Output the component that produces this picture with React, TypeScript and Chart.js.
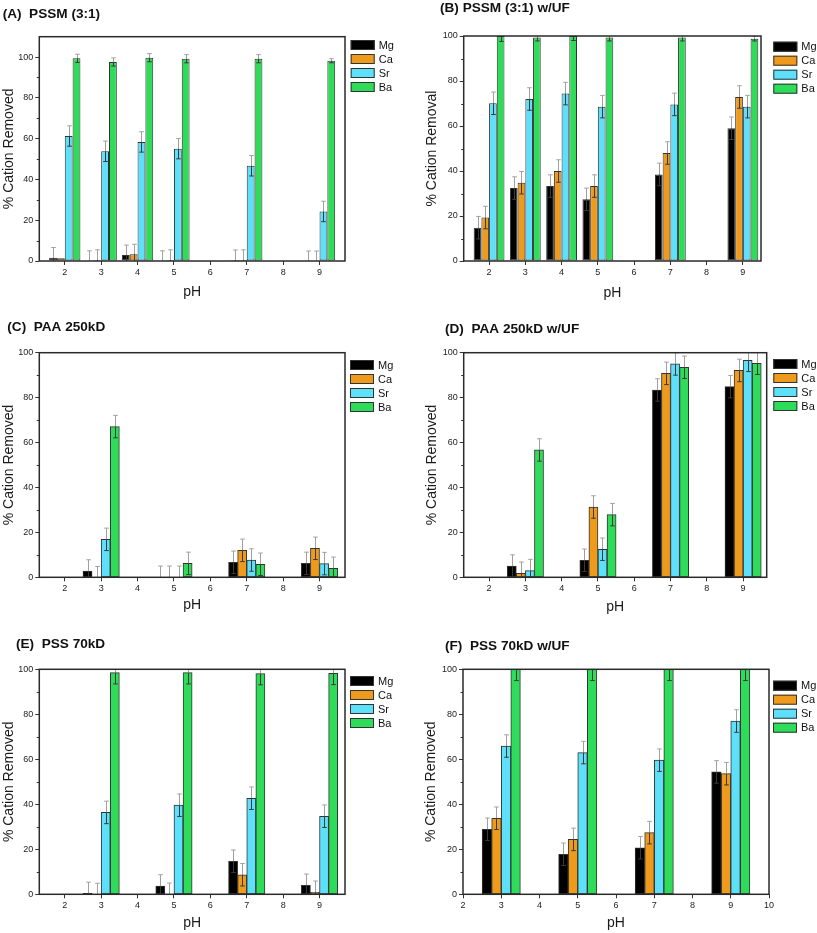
import React, { useEffect, useRef } from 'react';
import { Chart, registerables } from 'chart.js';

Chart.register(...registerables);
Chart.defaults.font.family = '"Liberation Sans", Arial, Helvetica, sans-serif';

// ---------- shared ----------
const SERIES = ['Mg', 'Ca', 'Sr', 'Ba'];
const COLORS = ['#000000', '#EE9A1C', '#5EDFFA', '#2EDC5A'];

// ---------- (A) PSSM (3:1) ----------
const PH_A = [2, 3, 4, 5, 7, 9];
const A_MG = [1.6, 0, 2.9, 0, 0.5, 0];
const A_CA = [1.3, 0.5, 3.3, 0.5, 0.5, 0];
const A_SR = [61.3, 53.8, 58.4, 55.1, 46.7, 24.3];
const A_BA = [99.4, 97.6, 99.7, 99.2, 99.2, 98.2];
const A_MG_ERR = [5, 5, 4.9, 5, 4.9, 4.9];
const A_CA_ERR = [0, 5, 4.9, 5, 5, 4.9];
const A_SR_ERR = [5, 5, 5, 5, 5, 5];
const A_BA_ERR = [2, 2, 2, 2, 2, 1];

// ---------- (B) PSSM (3:1) w/UF ----------
const PH_B = [2, 3, 4, 5, 7, 9];
const B_MG = [14.8, 32.4, 33.3, 27.4, 38.5, 59.0];
const B_CA = [19.3, 34.8, 40.0, 33.3, 48.0, 72.9];
const B_SR = [70.1, 72.0, 74.4, 68.6, 69.6, 68.6];
const B_BA = [100, 99.3, 100, 99.3, 99.3, 98.8];
const B_MG_ERR = [5, 5, 5, 5, 5, 5];
const B_CA_ERR = [5, 5, 5, 5, 5, 5];
const B_SR_ERR = [5, 5, 5, 5, 5, 5];
const B_BA_ERR = [2.4, 1.5, 2, 1.5, 1.5, 1];

// ---------- (C) PAA 250kD ----------
const PH_C = [3, 5, 7, 9];
const C_MG = [2.8, 0, 6.7, 6.2];
const C_CA = [0, 0, 12.0, 12.9];
const C_SR = [16.9, 0, 7.7, 6.1];
const C_BA = [67.1, 6.2, 5.8, 4.0];
const C_MG_ERR = [5, 5, 5, 5];
const C_CA_ERR = [4.8, 5, 5, 5];
const C_SR_ERR = [5, 5, 5, 5];
const C_BA_ERR = [5, 5, 5, 5];

// ---------- (D) PAA 250kD w/UF ----------
const PH_D = [3, 5, 7, 9];
const D_MG = [5.0, 7.6, 83.4, 84.9];
const D_CA = [1.8, 31.3, 90.8, 92.1];
const D_SR = [3.0, 12.5, 95.0, 96.6];
const D_BA = [56.7, 27.9, 93.5, 95.3];
const D_MG_ERR = [5, 5, 5, 5];
const D_CA_ERR = [5, 5, 5, 5];
const D_SR_ERR = [5, 5, 5, 5];
const D_BA_ERR = [5, 5, 5, 5];

// ---------- (E) PSS 70kD ----------
const PH_E = [3, 5, 7, 9];
const E_MG = [0.4, 3.7, 14.7, 4.0];
const E_CA = [0, 0, 8.7, 0.9];
const E_SR = [36.4, 39.6, 42.7, 34.7];
const E_BA = [98.5, 98.5, 98.1, 98.2];
const E_MG_ERR = [5, 5, 5, 5];
const E_CA_ERR = [4.9, 5, 5, 5];
const E_SR_ERR = [5, 5, 5, 5];
const E_BA_ERR = [5, 5, 5, 5];

// ---------- (F) PSS 70kD w/UF ----------
const PH_F = [3, 5, 7, 9];
const F_MG = [28.9, 17.8, 20.7, 54.4];
const F_CA = [33.8, 24.4, 27.4, 53.6];
const F_SR = [65.9, 63.0, 59.6, 77.0];
const F_BA = [100, 100, 100, 100];
const F_MG_ERR = [5, 5, 5, 5];
const F_CA_ERR = [5, 5, 5, 5];
const F_SR_ERR = [5, 5, 5, 5];
const F_BA_ERR = [5, 5, 5, 5];

type Panel = {
  title: string;
  yTitle: string;
  ph: number[];
  values: number[][];
  errors: number[][];
  xMin: number;
  xMax: number;
  yMax: number;
  group: number;
  ox: number; oy: number; w: number; h: number;
  area: { l: number; r: number; t: number; b: number };
  yTitleX: number;
  xTitleY: number;
  titlePos: [number, number];
  legendPos: [number, number];
};

const PANELS: Panel[] = [
  {
    title: '(A)  PSSM (3:1)', yTitle: '% Cation Removed', ph: PH_A,
    values: [A_MG, A_CA, A_SR, A_BA], errors: [A_MG_ERR, A_CA_ERR, A_SR_ERR, A_BA_ERR],
    xMin: 1.3, xMax: 9.7, yMax: 110, group: 0.86,
    ox: 0, oy: 0, w: 405, h: 305,
    area: { l: 39.3, r: 345, t: 36.7, b: 261 }, yTitleX: 8.7, xTitleY: 291.7,
    titlePos: [2.7, 14], legendPos: [350.7, 40],
  },
  {
    title: '(B) PSSM (3:1) w/UF', yTitle: '% Cation Removal', ph: PH_B,
    values: [B_MG, B_CA, B_SR, B_BA], errors: [B_MG_ERR, B_CA_ERR, B_SR_ERR, B_BA_ERR],
    xMin: 1.3, xMax: 9.5, yMax: 100, group: 0.85,
    ox: 405, oy: 0, w: 412, h: 305,
    area: { l: 58.7, r: 356, t: 36, b: 261 }, yTitleX: 27.5, xTitleY: 293,
    titlePos: [35, 8], legendPos: [368.3, 41.7],
  },
  {
    title: '(C)  PAA 250kD', yTitle: '% Cation Removed', ph: PH_C,
    values: [C_MG, C_CA, C_SR, C_BA], errors: [C_MG_ERR, C_CA_ERR, C_SR_ERR, C_BA_ERR],
    xMin: 1.3, xMax: 9.7, yMax: 100, group: 1.0,
    ox: 0, oy: 305, w: 405, h: 315,
    area: { l: 39.3, r: 345, t: 47.7, b: 272.3 }, yTitleX: 8.7, xTitleY: 300,
    titlePos: [7.3, 22], legendPos: [350, 55],
  },
  {
    title: '(D)  PAA 250kD w/UF', yTitle: '% Cation Removed', ph: PH_D,
    values: [D_MG, D_CA, D_SR, D_BA], errors: [D_MG_ERR, D_CA_ERR, D_SR_ERR, D_BA_ERR],
    xMin: 1.3, xMax: 9.65, yMax: 100, group: 1.0,
    ox: 405, oy: 305, w: 412, h: 315,
    area: { l: 58.7, r: 361.7, t: 47.7, b: 272.3 }, yTitleX: 27.5, xTitleY: 301.7,
    titlePos: [40, 24], legendPos: [368.3, 54],
  },
  {
    title: '(E)  PSS 70kD', yTitle: '% Cation Removed', ph: PH_E,
    values: [E_MG, E_CA, E_SR, E_BA], errors: [E_MG_ERR, E_CA_ERR, E_SR_ERR, E_BA_ERR],
    xMin: 1.3, xMax: 9.7, yMax: 100, group: 1.0,
    ox: 0, oy: 620, w: 405, h: 313,
    area: { l: 39.3, r: 345, t: 49.3, b: 274.3 }, yTitleX: 8.7, xTitleY: 303,
    titlePos: [16, 24], legendPos: [350, 56],
  },
  {
    title: '(F)  PSS 70kD w/UF', yTitle: '% Cation Removed', ph: PH_F,
    values: [F_MG, F_CA, F_SR, F_BA], errors: [F_MG_ERR, F_CA_ERR, F_SR_ERR, F_BA_ERR],
    xMin: 2, xMax: 10, yMax: 100, group: 1.0,
    ox: 405, oy: 620, w: 412, h: 313,
    area: { l: 58, r: 364, t: 49.3, b: 274.3 }, yTitleX: 26, xTitleY: 303,
    titlePos: [40, 26], legendPos: [368, 60.7],
  },
];

const FONT = '"Liberation Sans", Arial, Helvetica, sans-serif';
const TITLE_LH = 14 * 1.2;

function makePlugin(cfg: Panel) {
  return {
    id: 'panelExtras',
    afterDatasetsDraw(chart: any) {
      const ctx = chart.ctx;
      const ys = chart.scales.y;
      const a = chart.chartArea;
      ctx.save();
      ctx.beginPath();
      ctx.rect(a.left, a.top, a.right - a.left, a.bottom - a.top);
      ctx.clip();
      ctx.lineWidth = 1;
      const capHalf = 2.3;
      cfg.values.forEach((vals, s) => {
        const meta = chart.getDatasetMeta(s);
        meta.data.forEach((el: any, i: number) => {
          const v = vals[i];
          const e = cfg.errors[s][i];
          if (!e) return;
          const x = Math.round(el.x) + 0.5;
          const yTop = ys.getPixelForValue(v + e);
          const yBar = ys.getPixelForValue(v);
          const yBot = ys.getPixelForValue(v - e);
          ctx.strokeStyle = '#a0a0a0';
          ctx.beginPath();
          ctx.moveTo(x, yTop); ctx.lineTo(x, yBar);
          ctx.moveTo(x - capHalf, yTop); ctx.lineTo(x + capHalf, yTop);
          ctx.stroke();
          ctx.strokeStyle = '#3a3a3a';
          ctx.beginPath();
          ctx.moveTo(x, yBar); ctx.lineTo(x, yBot);
          ctx.moveTo(x - capHalf, yBot); ctx.lineTo(x + capHalf, yBot);
          ctx.stroke();
        });
      });
      ctx.restore();
    },
    afterDraw(chart: any) {
      const ctx = chart.ctx;
      const a = chart.chartArea;
      const ys = chart.scales.y;
      ctx.save();
      // minor y ticks
      ctx.strokeStyle = '#333';
      ctx.lineWidth = 1;
      ctx.beginPath();
      for (let v = 10; v < cfg.yMax; v += 20) {
        const py = Math.round(ys.getPixelForValue(v)) + 0.5;
        ctx.moveTo(a.left - 2.5, py);
        ctx.lineTo(a.left, py);
      }
      ctx.stroke();
      // frame
      ctx.strokeStyle = '#2a2a2a';
      ctx.lineWidth = 1.5;
      ctx.strokeRect(a.left, a.top, a.right - a.left, a.bottom - a.top);
      // panel title
      ctx.fillStyle = '#111';
      ctx.font = `bold 13.6px ${FONT}`;
      ctx.textAlign = 'left';
      ctx.textBaseline = 'middle';
      ctx.fillText(cfg.title, cfg.titlePos[0], cfg.titlePos[1]);
      // legend
      const [lx, ly] = cfg.legendPos;
      ctx.font = `11px ${FONT}`;
      SERIES.forEach((name, s) => {
        const top = ly + s * 14;
        ctx.fillStyle = COLORS[s];
        ctx.fillRect(lx, top, 24, 10);
        ctx.strokeStyle = '#333';
        ctx.lineWidth = 1;
        ctx.strokeRect(lx + 0.5, top + 0.5, 23, 9);
        ctx.fillStyle = '#111';
        ctx.fillText(name, lx + 28, top + 5.5);
      });
      ctx.restore();
    },
  };
}

function PanelChart({ cfg }: { cfg: Panel }) {
  const ref = useRef<HTMLCanvasElement>(null);
  useEffect(() => {
    const canvas = ref.current;
    if (!canvas) return;
    const { area } = cfg;
    const xAxisH = cfg.xTitleY - area.b + TITLE_LH / 2;
    const padBottom = cfg.h - area.b - xAxisH;
    const chart = new Chart(canvas, {
      type: 'bar',
      data: {
        datasets: SERIES.map((name, s) => ({
          label: name,
          data: cfg.ph.map((x, i) => ({ x, y: cfg.values[s][i] })),
          backgroundColor: COLORS[s],
          borderColor: '#333',
          borderWidth: 1,
          borderSkipped: false,
          categoryPercentage: cfg.group,
          barPercentage: 1,
        })),
      },
      options: {
        responsive: false,
        animation: false,
        events: [],
        layout: {
          padding: { left: 0, top: area.t, right: cfg.w - area.r, bottom: padBottom },
        },
        plugins: {
          legend: { display: false },
          title: { display: false },
          tooltip: { enabled: false },
        },
        scales: {
          x: {
            type: 'linear',
            min: cfg.xMin,
            max: cfg.xMax,
            offset: false,
            ticks: {
              stepSize: 1,
              includeBounds: false,
              autoSkip: false,
              maxRotation: 0,
              font: { size: 9 },
              color: '#222',
              padding: 2,
            },
            grid: { drawOnChartArea: false, drawTicks: true, tickLength: 4, tickColor: '#333', offset: false },
            border: { display: false },
            title: { display: true, text: 'pH', font: { size: 14 }, color: '#1a1a1a', padding: { top: 0, bottom: 0 } },
            afterFit: (s: any) => { s.height = xAxisH; },
          },
          y: {
            type: 'linear',
            min: 0,
            max: cfg.yMax,
            ticks: { stepSize: 20, includeBounds: false, font: { size: 9 }, color: '#222', padding: 2 },
            grid: { drawOnChartArea: false, drawTicks: true, tickLength: 4, tickColor: '#333' },
            border: { display: false },
            title: {
              display: true, text: cfg.yTitle, font: { size: 14 }, color: '#1a1a1a',
              padding: { top: cfg.yTitleX - TITLE_LH / 2, bottom: 0 },
            },
            afterFit: (s: any) => { s.width = area.l; },
          },
        },
      } as any,
      plugins: [makePlugin(cfg)],
    });
    return () => chart.destroy();
  }, [cfg]);
  return (
    <canvas
      ref={ref}
      width={cfg.w}
      height={cfg.h}
      style={{ position: 'absolute', left: cfg.ox, top: cfg.oy, width: cfg.w, height: cfg.h }}
    />
  );
}

export default function App() {
  return (
    <div style={{ position: 'absolute', left: 0, top: 0, width: 817, height: 933, background: '#fff' }}>
      {PANELS.map((p, i) => (
        <PanelChart key={i} cfg={p} />
      ))}
    </div>
  );
}
